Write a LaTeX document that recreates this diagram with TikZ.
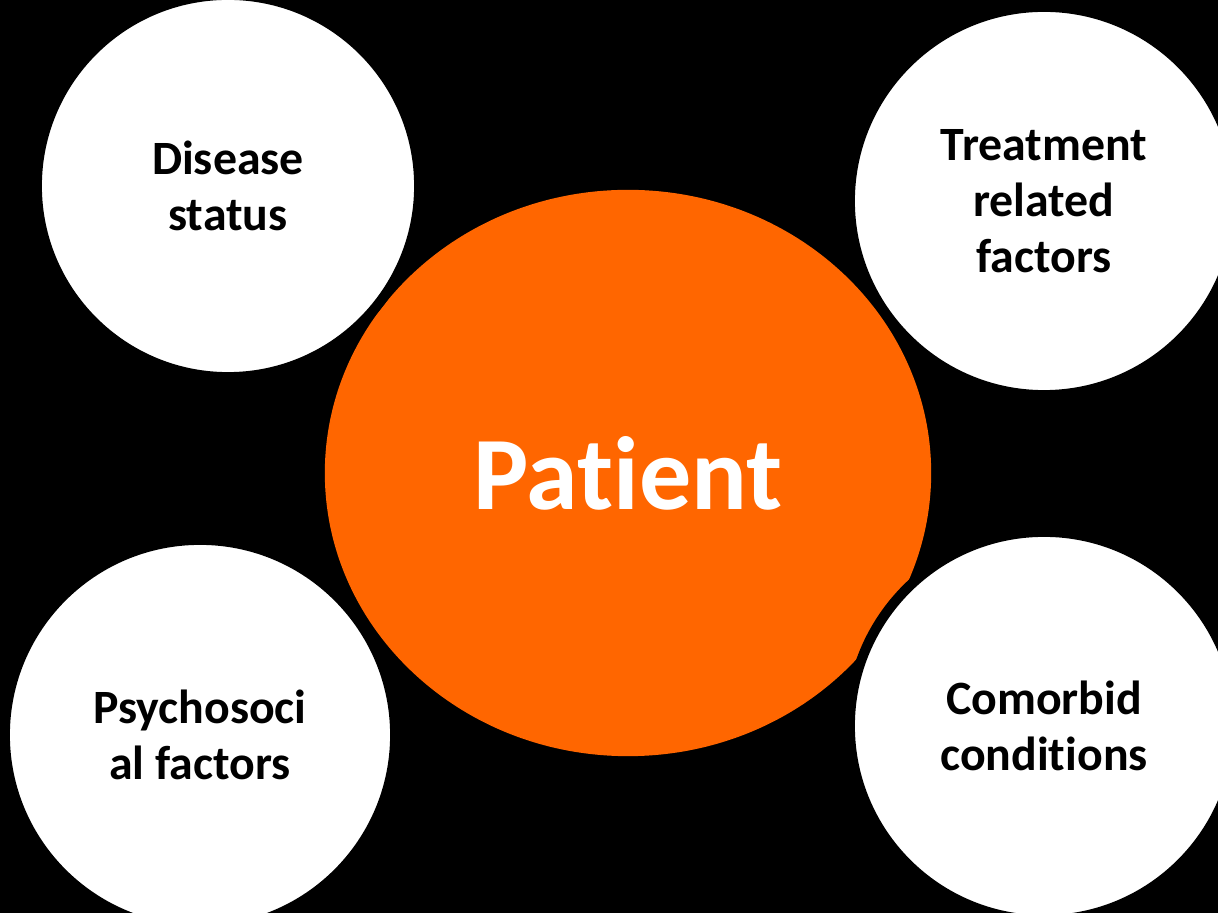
\documentclass[tikz,border=0pt]{standalone}
\usepackage{fontspec}
\setmainfont{Carlito}[RawFeature=-liga]
\usetikzlibrary{shapes.geometric}
\definecolor{patientorange}{HTML}{FF6600}
\tikzset{
    factor/.style={
        circle, fill=white, draw=black, line width=1mm,
        minimum size=#1, inner sep=0pt, align=center,
        font=\fontsize{13.6}{16}\selectfont\bfseries,
    },
    factor/.default=3.86cm,
    core/.style={
        ellipse, fill=patientorange, inner sep=0pt,
        minimum width=6.06cm, minimum height=5.66cm,
        text=white, font=\fontsize{29.6}{34}\selectfont\bfseries,
    },
}

\begin{document}
\begin{tikzpicture}[x=0.01cm, y=-0.01cm]
    \fill[black] (0,0) rectangle (1218,913);
    \useasboundingbox (0,0) rectangle (1218,913);
    \node[core] (patient) at (628,473) {Patient};
    \node[factor=3.82cm] (disease) at (228,186) {Disease\\status};
    \node[factor=3.88cm] (treatment) at (1044,201) {Treatment\\related\\factors};
    \node[factor=3.90cm] (psycho) at (200,735) {Psychosoci\\al factors};
    \node[factor=3.88cm] (comorbid) at (1044,726) {Comorbid\\conditions};
\end{tikzpicture}
\end{document}
